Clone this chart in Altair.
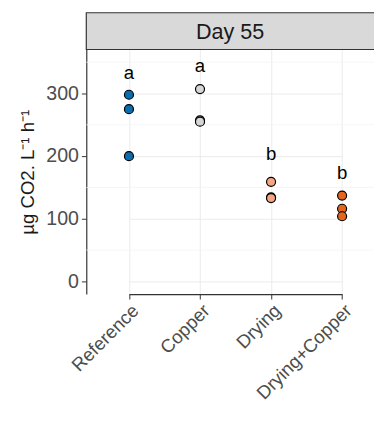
import altair as alt
import pandas as pd

categories = ["Reference", "Copper", "Drying", "Drying+Copper"]
ref_vals = [298, 275, 200]
copper_vals = [307, 257, 255]
drying_vals = [159, 134, 133]
drycop_vals = [137, 116, 104]
letters = ["a", "a", "b", "b"]
letter_y = [333, 344, 203, 173]
colors = ["#0a6db0", "#d6d6d6", "#f4a582", "#e3661c"]
major_ticks = [0, 100, 200, 300]
minor_ticks = [50, 150, 250, 350]
panel_title = "Day 55"
y_title = "µg CO2. L⁻¹ h⁻¹"

rows = []
for cat, vals in zip(categories, [ref_vals, copper_vals, drying_vals, drycop_vals]):
    for v in vals:
        rows.append({"treatment": cat, "value": v})
df = pd.DataFrame(rows)
letters_df = pd.DataFrame({"treatment": categories, "letter": letters, "y": letter_y})
minor_df = pd.DataFrame({"v": minor_ticks})

W, H = 294, 250
FONT = "Liberation Sans"

xscale = alt.Scale(type="point", domain=categories, range=[43.6, 261.4], padding=0)
yscale = alt.Scale(domain=[-20.3, 370.3], nice=False, zero=False)

xaxis = alt.Axis(title=None, labelAngle=-45, labelFontSize=19, labelColor="#4d4d4d",
                 labelFont=FONT, tickColor="#333333", tickSize=5, domainColor="#333333",
                 domainWidth=1.2, grid=True, gridColor="#ebebeb", gridWidth=1, labelPadding=2)
yaxis = alt.Axis(title=y_title, values=major_ticks, labelFontSize=20, labelColor="#4d4d4d",
                 labelFont=FONT, tickColor="#333333", tickSize=5, domainColor="#333333",
                 domainWidth=1.2, grid=True, gridColor="#ebebeb", gridWidth=1, titleFont=FONT,
                 titleFontSize=19, titleFontWeight="normal", titleColor="#1a1a1a",
                 titlePadding=9, labelPadding=3)

minor = alt.Chart(minor_df).mark_rule(color="#f4f4f4", strokeWidth=0.8).encode(
    y=alt.Y("v:Q", scale=yscale, axis=yaxis)
)

points = alt.Chart(df).mark_circle(size=85, opacity=1, stroke="black", strokeWidth=1.2).encode(
    x=alt.X("treatment:N", scale=xscale, axis=xaxis, sort=categories),
    y=alt.Y("value:Q", scale=yscale, axis=yaxis),
    fill=alt.Fill("treatment:N", scale=alt.Scale(domain=categories, range=colors), legend=None),
)

text = alt.Chart(letters_df).mark_text(fontSize=19, font=FONT, color="black").encode(
    x=alt.X("treatment:N", scale=xscale, sort=categories, axis=xaxis),
    y=alt.Y("y:Q", scale=yscale, axis=yaxis),
    text="letter:N",
)

strip = alt.Chart(pd.DataFrame({"t": [panel_title]})).mark_rect(
    fill="#d9d9d9", stroke="#333333", strokeWidth=1.2
).encode(x=alt.value(0), x2=alt.value(W + 4), y=alt.value(-37.5), y2=alt.value(0))

strip_text = alt.Chart(pd.DataFrame({"t": [panel_title]})).mark_text(
    fontSize=22, font=FONT, color="#1a1a1a"
).encode(x=alt.value(147), y=alt.value(-18), text="t:N")

chart = alt.layer(minor, points, text, strip, strip_text).properties(
    width=W, height=H,
    autosize=alt.AutoSizeParams(type="none"),
    padding={"left": 80, "top": 38, "right": 0, "bottom": 112},
).configure(background="white").configure_view(stroke=None)

chart.save("out.html", embed_options={"renderer": "svg", "actions": False})
